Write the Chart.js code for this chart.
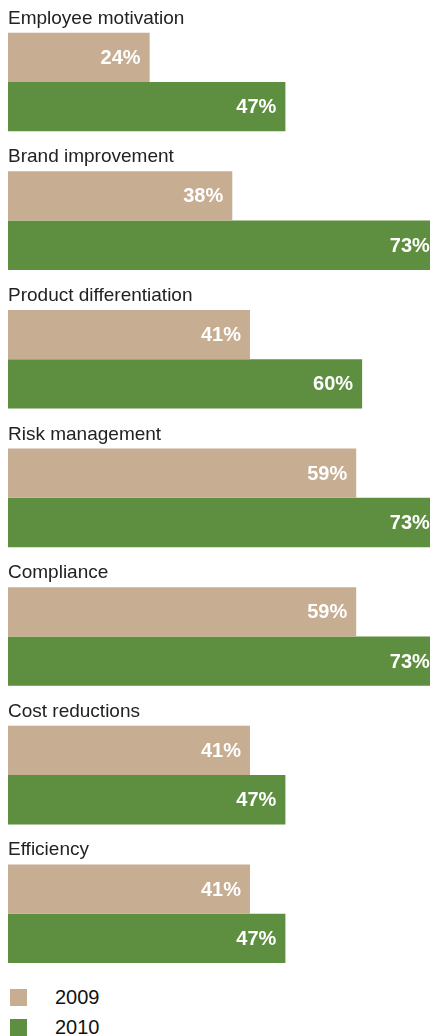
<!DOCTYPE html>
<html>
<head>
<meta charset="utf-8">
<script src="https://cdn.jsdelivr.net/npm/chart.js@4/dist/chart.umd.min.js"></script>
<style>
  html, body { margin: 0; padding: 0; background: #fff; }
  body { width: 430px; height: 1036px; position: relative; overflow: hidden;
         font-family: "Liberation Sans", Arial, Helvetica, sans-serif; }
  #chart { position: absolute; left: 0; top: 0; display: block; }
  .legend-item { position: absolute; left: 10px; height: 17px; }
  .legend-item .sw { position: absolute; left: 0; top: 0; width: 17px; height: 17px; }
  .legend-item .lb { position: absolute; left: 45px; top: -2px; font-size: 20px; line-height: 20px; color: #111; white-space: nowrap; }
</style>
</head>
<body>
<canvas id="chart" width="430" height="983"></canvas>
<div class="legend-item" style="top:989px"><div class="sw" style="background:#c7ad91"></div><div class="lb" id="lg0"></div></div>
<div class="legend-item" style="top:1019px"><div class="sw" style="background:#5e8e40"></div><div class="lb" id="lg1"></div></div>
<script>
const categories = ["Employee motivation", "Brand improvement", "Product differentiation",
                    "Risk management", "Compliance", "Cost reductions", "Efficiency"];
const seriesNames = ["2009", "2010"];
const values2009 = [24, 38, 41, 59, 59, 41, 41];
const values2010 = [47, 73, 60, 73, 73, 47, 47];
const colors = ["#c7ad91", "#5e8e40"];

document.getElementById("lg0").textContent = seriesNames[0];
document.getElementById("lg1").textContent = seriesNames[1];

const FONT = '"Liberation Sans", Arial, Helvetica, sans-serif';

const overlay = {
  id: "overlay",
  afterDatasetsDraw(chart) {
    const ctx = chart.ctx;
    const area = chart.chartArea;
    ctx.save();
    // value labels inside bars
    ctx.font = "bold 20px " + FONT;
    ctx.fillStyle = "#ffffff";
    ctx.textAlign = "right";
    ctx.textBaseline = "middle";
    chart.data.datasets.forEach((ds, di) => {
      const meta = chart.getDatasetMeta(di);
      meta.data.forEach((bar, i) => {
        ctx.fillText(ds.data[i] + "%", bar.x - 9, bar.y + 1);
      });
    });
    // category titles above each group
    ctx.font = "19px " + FONT;
    ctx.fillStyle = "#222222";
    ctx.textAlign = "left";
    ctx.textBaseline = "alphabetic";
    const meta0 = chart.getDatasetMeta(0);
    meta0.data.forEach((bar, i) => {
      const top = bar.y - bar.height / 2;
      ctx.fillText(chart.data.labels[i], area.left, top - 9);
    });
    ctx.restore();
  }
};

new Chart(document.getElementById("chart"), {
  type: "bar",
  data: {
    labels: categories,
    datasets: [
      { label: seriesNames[0], data: values2009, backgroundColor: colors[0] },
      { label: seriesNames[1], data: values2010, backgroundColor: colors[1] }
    ]
  },
  options: {
    indexAxis: "y",
    responsive: false,
    animation: false,
    events: [],
    layout: { padding: { top: 12.7, left: 8, right: 0, bottom: 0 } },
    datasets: { bar: { categoryPercentage: 0.7115, barPercentage: 1.0, borderWidth: 0 } },
    scales: {
      x: { display: false, min: 0, max: 71.5, grid: { display: false } },
      y: { display: false, grid: { display: false } }
    },
    plugins: { legend: { display: false }, tooltip: { enabled: false } }
  },
  plugins: [overlay]
});
</script>
</body>
</html>
